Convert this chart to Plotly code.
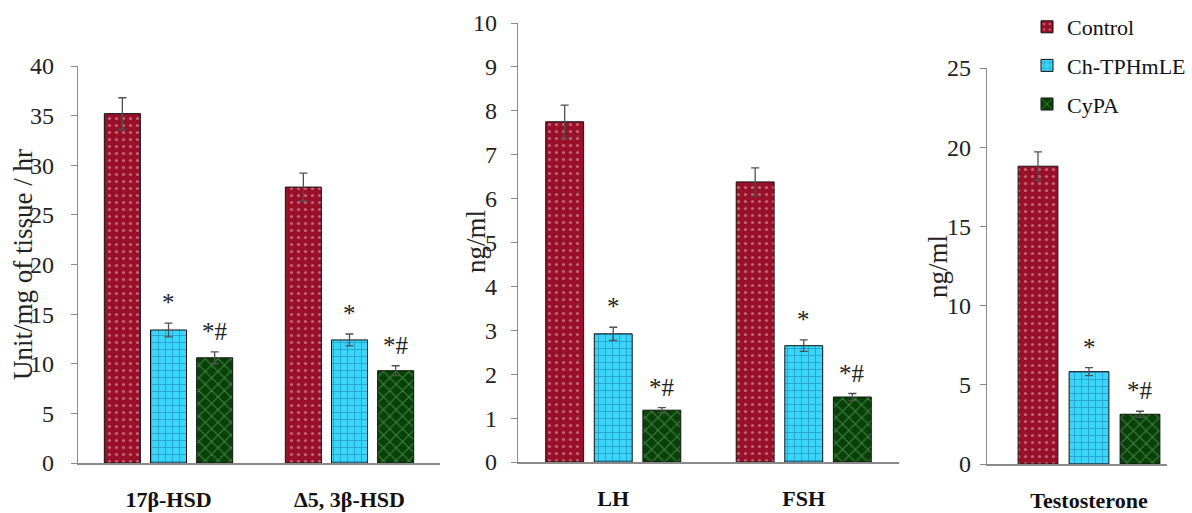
import plotly.graph_objects as go

# ---------------- data ----------------
groups = ["Control", "Ch-TPHmLE", "CyPA"]
sig_labels = ["", "*", "*#"]

categories1 = ["17β-HSD", "Δ5, 3β-HSD"]
control1 = [35.2, 27.8]
control1_err = [1.6, 1.4]
ch1 = [13.4, 12.4]
ch1_err = [0.7, 0.6]
cypa1 = [10.6, 9.3]
cypa1_err = [0.6, 0.5]

categories2 = ["LH", "FSH"]
control2 = [7.75, 6.38]
control2_err = [0.38, 0.32]
ch2 = [2.92, 2.65]
ch2_err = [0.15, 0.13]
cypa2 = [1.18, 1.48]
cypa2_err = [0.06, 0.08]

categories3 = ["Testosterone"]
control3 = [18.8]
control3_err = [0.9]
ch3 = [5.83]
ch3_err = [0.25]
cypa3 = [3.14]
cypa3_err = [0.19]

# ---------------- styles ----------------
W, H = 1192, 513
SERIF = "Liberation Serif, Times New Roman, DejaVu Serif, serif"
styles = [
    dict(color="#98102a", pattern=dict(shape=".", fgcolor="#f0b8c0", size=7, solidity=0.16)),
    dict(color="#3ad6fa", pattern=dict(shape="+", fgcolor="#13609a", size=7, solidity=0.22)),
    dict(color="#0a400a", pattern=dict(shape="x", fgcolor="#6cc86c", size=9, solidity=0.22)),
]

panels = [
    dict(cats=categories1, vals=[control1, ch1, cypa1], errs=[control1_err, ch1_err, cypa1_err],
         xd=(78, 440), yd=(463, 66), yr=[0, 40], dtick=5, xr=[-0.5, 1.5], standoff=12),
    dict(cats=categories2, vals=[control2, ch2, cypa2], errs=[control2_err, ch2_err, cypa2_err],
         xd=(518, 899), yd=(462, 23), yr=[0, 10], dtick=1, xr=[-0.5, 1.5], standoff=9),
    dict(cats=categories3, vals=[control3, ch3, cypa3], errs=[control3_err, ch3_err, cypa3_err],
         xd=(987, 1167), yd=(464, 68), yr=[0, 25], dtick=5, xr=[-0.51, 0.39], standoff=4),
]

fig = go.Figure()
annotations = []
slot = (1 - 0.235) / 3

for p_i, p in enumerate(panels):
    xa = "x" if p_i == 0 else f"x{p_i+1}"
    ya = "y" if p_i == 0 else f"y{p_i+1}"
    for g_i, g in enumerate(groups):
        st = styles[g_i]
        fig.add_trace(go.Bar(
            x=p["cats"], y=p["vals"][g_i], name=g,
            xaxis=xa, yaxis=ya,
            legendgroup=g, showlegend=(p_i == 0),
            marker=dict(color=st["color"], pattern=st["pattern"],
                        line=dict(color="#111111", width=1)),
            error_y=dict(type="data", array=p["errs"][g_i], color="#505050",
                         thickness=1.3, width=4),
        ))
        if sig_labels[g_i]:
            for c_i, c in enumerate(p["cats"]):
                annotations.append(dict(
                    x=c_i + (g_i - 1) * slot, y=p["vals"][g_i][c_i] + p["errs"][g_i][c_i],
                    xref=xa, yref=ya, text=sig_labels[g_i], showarrow=False,
                    yanchor="bottom", yshift=5,
                    font=dict(family=SERIF, size=25, color="#222222"),
                ))
    ax_suffix = "" if p_i == 0 else str(p_i + 1)
    fig.layout["xaxis" + ax_suffix] = dict(
        domain=[p["xd"][0] / W, p["xd"][1] / W], anchor=ya, range=p["xr"],
        type="category", showline=True, linecolor="#8a8a8a", linewidth=1.5,
        ticks="", showgrid=False, zeroline=False,
        tickfont=dict(family=SERIF, size=22, color="#111111", weight="bold"),
        ticklabelstandoff=16,
    )
    fig.layout["yaxis" + ax_suffix] = dict(
        domain=[1 - p["yd"][0] / H, 1 - p["yd"][1] / H], anchor=xa, range=p["yr"],
        dtick=p["dtick"], showline=True, linecolor="#8a8a8a", linewidth=1.3,
        ticks="outside", ticklen=6, tickcolor="#8a8a8a", showgrid=False, zeroline=False,
        tickfont=dict(family=SERIF, size=24, color="#222222"),
        ticklabelstandoff=p["standoff"],
    )

# y-axis titles
ytitles = [("Unit/mg of tissue / hr", 23, 265), ("ng/ml", 476, 242), ("ng/ml", 938, 267)]
for t, xp, yp in ytitles:
    annotations.append(dict(
        x=xp / W, y=1 - yp / H, xref="paper", yref="paper", text=t, textangle=-90,
        showarrow=False, xanchor="center", yanchor="middle",
        font=dict(family=SERIF, size=27, color="#222222"),
    ))

fig.update_layout(
    width=W, height=H, margin=dict(l=0, r=0, t=0, b=0, autoexpand=False),
    paper_bgcolor="white", plot_bgcolor="white",
    barmode="group", bargap=0.235, bargroupgap=0.22,
    annotations=annotations,
    showlegend=True,
    legend=dict(x=1027 / W, y=1 - 6 / H, xanchor="left", yanchor="top",
                font=dict(family=SERIF, size=22, color="#111111"),
                tracegroupgap=7, itemwidth=30, bgcolor="rgba(0,0,0,0)"),
)

fig.write_html(
    "out.html",
    config={"displayModeBar": False},
    post_script="document.body.style.margin='0';document.body.style.overflow='hidden';",
)
